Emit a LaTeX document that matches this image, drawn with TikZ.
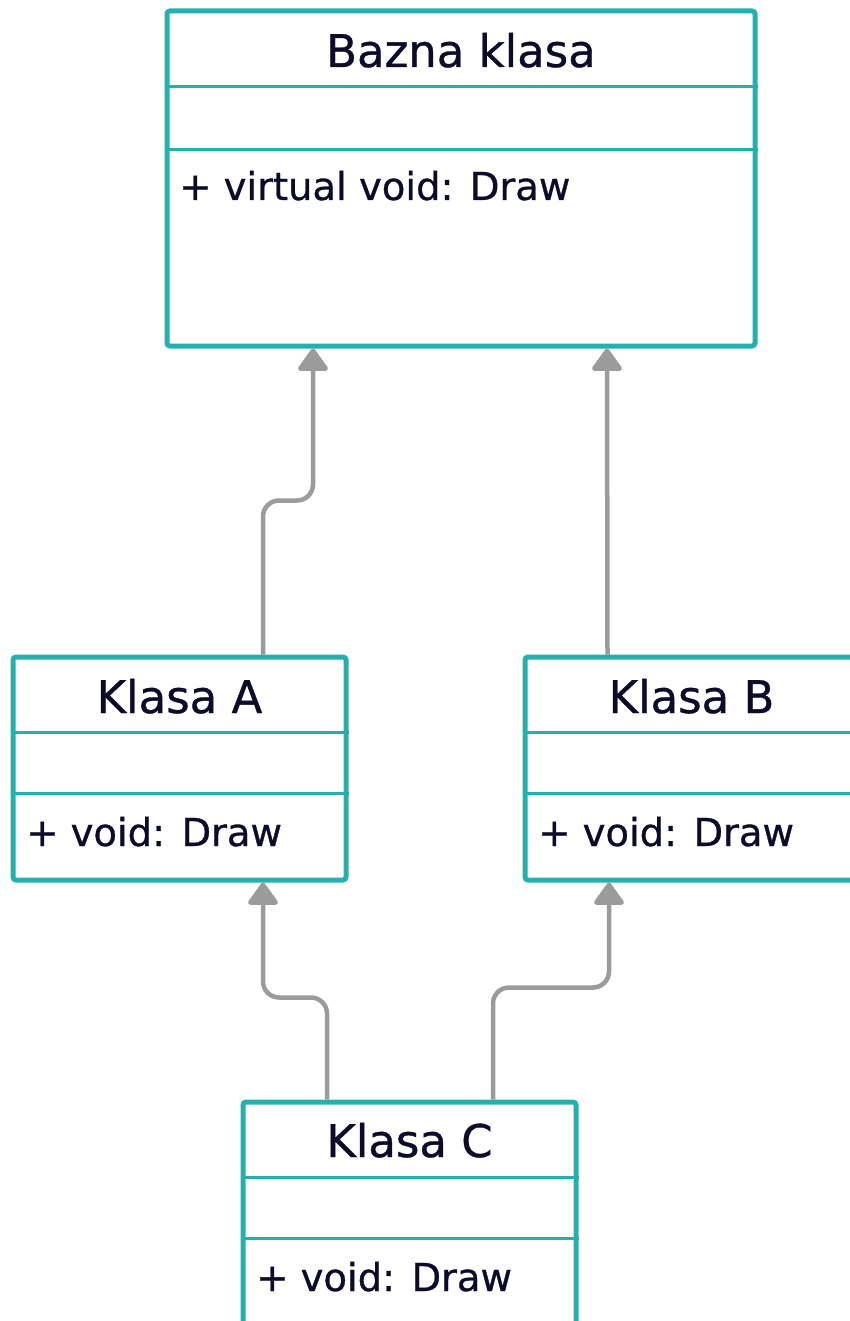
\documentclass[tikz,border=0pt]{standalone}
\usepackage{fontspec}
\setmainfont[FakeBold=0.8]{DejaVu Sans}
\usepackage{tikz}
\usetikzlibrary{positioning, arrows.meta}

\definecolor{umlteal}{HTML}{26B0AD}
\definecolor{umlgray}{HTML}{9B9B9B}
\definecolor{umlink}{HTML}{0C0C2A}

\tikzset{
    umlbox/.style={draw=umlteal, line width=5pt, rounded corners=3pt, inner sep=0pt},
    umlsep/.style={draw=umlteal, line width=3.5pt},
    umltitle/.style={text=umlink, inner sep=0pt, font=\fontsize{45}{54}\selectfont},
    umlmethod/.style={text=umlink, inner sep=0pt, font=\fontsize{38.5}{46}\selectfont},
    inherit/.style={draw=umlgray, line width=4.5pt, rounded corners=16pt,
        -{Triangle[width=33pt,length=24pt,round]}}
}

\begin{document}
\begin{tikzpicture}[x=1pt,y=-1pt]
    \useasboundingbox (0,0) rectangle (850,1321);

    % class boxes
    \node[umlbox, minimum width=588pt, minimum height=335pt] (base) at (461,178.5) {};
    \node[umlbox, minimum width=333pt, minimum height=223pt] (klasaA) at (179.5,768.5) {};
    \node[umlbox, minimum width=333pt, minimum height=223pt] (klasaB) at (691.5,768.5) {};
    \node[umlbox, minimum width=333pt, minimum height=243pt] (klasaC) at (409.5,1223.5) {};

    % compartments
    \draw[umlsep] ([yshift=-78pt]base.north west) -- ([yshift=-78pt]base.north east);
    \draw[umlsep] ([yshift=-141pt]base.north west) -- ([yshift=-141pt]base.north east);
    \draw[umlsep] ([yshift=-78pt]klasaA.north west) -- ([yshift=-78pt]klasaA.north east);
    \draw[umlsep] ([yshift=-139pt]klasaA.north west) -- ([yshift=-139pt]klasaA.north east);
    \draw[umlsep] ([yshift=-78pt]klasaB.north west) -- ([yshift=-78pt]klasaB.north east);
    \draw[umlsep] ([yshift=-139pt]klasaB.north west) -- ([yshift=-139pt]klasaB.north east);
    \draw[umlsep] ([yshift=-78pt]klasaC.north west) -- ([yshift=-78pt]klasaC.north east);
    \draw[umlsep] ([yshift=-139pt]klasaC.north west) -- ([yshift=-139pt]klasaC.north east);

    % names and methods
    \node[umltitle, anchor=base] (baseName) at (461,67) {Bazna klasa};
    \node[umlmethod, anchor=base west] (baseDraw) at (179,200) {+ virtual void: Draw};
    \node[umltitle, anchor=base] (klasaAName) at (179.5,713) {Klasa A};
    \node[umlmethod, anchor=base west] (klasaADraw) at (26,846) {+ void: Draw};
    \node[umltitle, anchor=base] (klasaBName) at (691.5,713) {Klasa B};
    \node[umlmethod, anchor=base west] (klasaBDraw) at (538,846) {+ void: Draw};
    \node[umltitle, anchor=base] (klasaCName) at (409.5,1157) {Klasa C};
    \node[umlmethod, anchor=base west] (klasaCDraw) at (256,1291) {+ void: Draw};

    % inheritance
    \draw[inherit] ([xshift=83.5pt]klasaA.north) -- ++(0,-154) -| ([xshift=-148pt]base.south);
    \draw[inherit] ([xshift=-84pt]klasaB.north) -- ([xshift=146pt]base.south);
    \draw[inherit] ([xshift=-82.5pt]klasaC.north) -- ++(0,-102) -| ([xshift=83.5pt]klasaA.south);
    \draw[inherit] ([xshift=83.5pt]klasaC.north) -- ++(0,-112) -| ([xshift=-82.5pt]klasaB.south);
\end{tikzpicture}
\end{document}
